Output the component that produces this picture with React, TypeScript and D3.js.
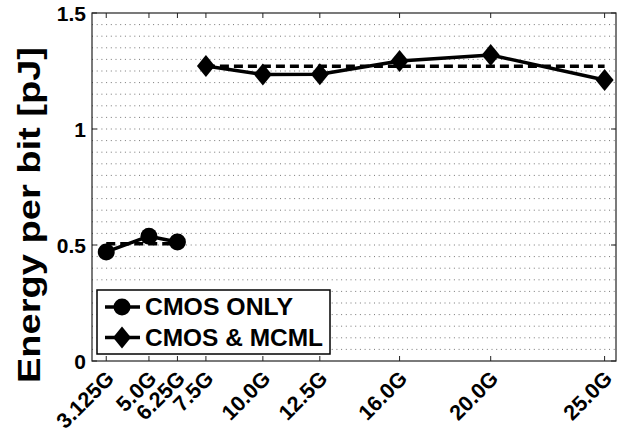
import React from "react";
import * as d3 from "d3";

const freqTicks = [3.125, 5.0, 6.25, 7.5, 10.0, 12.5, 16.0, 20.0, 25.0];
const freqLabels = ["3.125G", "5.0G", "6.25G", "7.5G", "10.0G", "12.5G", "16.0G", "20.0G", "25.0G"];
const yTicks = [0, 0.5, 1, 1.5];
const yTickLabels = ["0", "0.5", "1", "1.5"];

const cmosFreq = [3.125, 5.0, 6.25];
const cmosEnergy = [0.47, 0.538, 0.513];
const cmosAvg = 0.505;

const mcmlFreq = [7.5, 10.0, 12.5, 16.0, 20.0, 25.0];
const mcmlEnergy = [1.272, 1.235, 1.236, 1.293, 1.319, 1.211];
const mcmlAvg = 1.27;

const seriesNames = ["CMOS ONLY", "CMOS & MCML"];

const W = 622;
const H = 436;
const L = 92, R = 616, T = 13, B = 361;
const FONT = "'Liberation Sans', Arial, Helvetica, sans-serif";

const diamond = "M0,-11L9,0L0,11L-9,0Z";

export default function App() {
  const x = d3.scaleLinear().domain([2.5, 25.5]).range([L, R]);
  const y = d3.scaleLinear().domain([0, 1.5]).range([B, T]);
  const line = d3
    .line<[number, number]>()
    .x((d) => x(d[0]))
    .y((d) => y(d[1]));

  const grid = d3.range(1, 30).map((i) => i * 0.05);

  const cmosPts: [number, number][] = cmosFreq.map((f, i) => [f, cmosEnergy[i]]);
  const mcmlPts: [number, number][] = mcmlFreq.map((f, i) => [f, mcmlEnergy[i]]);
  const cmosAvgPts: [number, number][] = [
    [cmosFreq[0], cmosAvg],
    [cmosFreq[cmosFreq.length - 1], cmosAvg],
  ];
  const mcmlAvgPts: [number, number][] = [
    [mcmlFreq[0], mcmlAvg],
    [mcmlFreq[mcmlFreq.length - 1], mcmlAvg],
  ];

  return (
    <svg
      width={W}
      height={H}
      style={{ position: "absolute", left: 0, top: 0, background: "#fff" }}
      fontFamily={FONT}
      fontWeight="bold"
    >
      <rect x={0} y={0} width={W} height={H} fill="#fff" />
      {grid.map((g, i) => (
        <line
          key={i}
          x1={L}
          x2={R}
          y1={y(g)}
          y2={y(g)}
          stroke="#777"
          strokeWidth={1}
          strokeDasharray="1,3.7"
        />
      ))}
      {freqTicks.map((f, i) => (
        <g key={i}>
          <line x1={x(f)} x2={x(f)} y1={B} y2={B - 5} stroke="#222" strokeWidth={1} />
          <line x1={x(f)} x2={x(f)} y1={T} y2={T + 5} stroke="#222" strokeWidth={1} />
        </g>
      ))}
      {yTicks.map((v, i) => (
        <g key={i}>
          <line x1={L} x2={L + 5} y1={y(v)} y2={y(v)} stroke="#222" strokeWidth={1} />
          <line x1={R} x2={R - 5} y1={y(v)} y2={y(v)} stroke="#222" strokeWidth={1} />
        </g>
      ))}
      <rect x={L} y={T} width={R - L} height={B - T} fill="none" stroke="#222" strokeWidth={1.2} />

      <path d={line(cmosAvgPts) || ""} fill="none" stroke="#000" strokeWidth={3.5} strokeDasharray="9,5" />
      <path d={line(mcmlAvgPts) || ""} fill="none" stroke="#000" strokeWidth={3.5} strokeDasharray="9,5" />

      <path d={line(cmosPts) || ""} fill="none" stroke="#000" strokeWidth={3.5} strokeLinejoin="round" />
      {cmosPts.map((p, i) => (
        <circle key={i} cx={x(p[0])} cy={y(p[1])} r={8.5} fill="#000" />
      ))}
      <path d={line(mcmlPts) || ""} fill="none" stroke="#000" strokeWidth={3.5} strokeLinejoin="round" />
      {mcmlPts.map((p, i) => (
        <path key={i} d={diamond} transform={`translate(${x(p[0])},${y(p[1])})`} fill="#000" />
      ))}

      {yTicks.map((v, i) => (
        <text key={i} x={86} y={y(v)} dy="0.36em" textAnchor="end" fontSize={21} fill="#000">
          {yTickLabels[i]}
        </text>
      ))}
      {freqTicks.map((f, i) => (
        <text
          key={i}
          transform={`translate(${x(f) + 9},${380}) rotate(-45)`}
          textAnchor="end"
          fontSize={21.5}
          fill="#000"
        >
          {freqLabels[i]}
        </text>
      ))}
      <text
        transform={`translate(40,215) rotate(-90)`}
        textAnchor="middle"
        fontSize={31}
        textLength={336}
        lengthAdjust="spacingAndGlyphs"
        fill="#000"
      >
        Energy per bit [pJ]
      </text>

      <rect x={97} y={290} width={233} height={64} fill="#fff" stroke="#000" strokeWidth={1.5} />
      <line x1={105} x2={140} y1={307} y2={307} stroke="#000" strokeWidth={3.5} />
      <circle cx={122} cy={307} r={8.5} fill="#000" />
      <text x={145} y={315} fontSize={23} textLength={148} lengthAdjust="spacingAndGlyphs" fill="#000">
        {seriesNames[0]}
      </text>
      <line x1={105} x2={140} y1={337.5} y2={337.5} stroke="#000" strokeWidth={3.5} />
      <path d={diamond} transform="translate(122,337.5)" fill="#000" />
      <text x={145} y={345.5} fontSize={23} textLength={178} lengthAdjust="spacingAndGlyphs" fill="#000">
        {seriesNames[1]}
      </text>
    </svg>
  );
}
